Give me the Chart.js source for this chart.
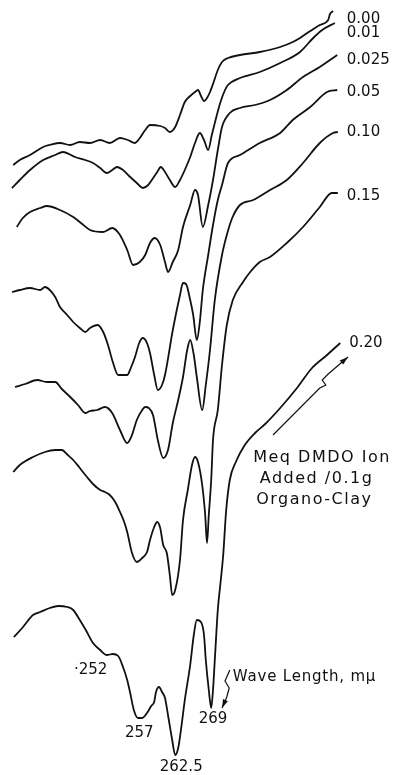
<!DOCTYPE html>
<html>
<head>
<meta charset="utf-8">
<script src="https://cdn.jsdelivr.net/npm/chart.js@4.4.1/dist/chart.umd.min.js"></script>
<style>
  html, body { margin: 0; padding: 0; background: #fff; }
  #wrap { width: 393px; height: 775px; }
</style>
</head>
<body>
<div id="wrap"><canvas id="spectra"></canvas></div>
<script>
// Meq DMDO ion added per 0.1 g organo-clay (curve labels, top to bottom)
var doses = ["0.00", "0.01", "0.025", "0.05", "0.10", "0.15", "0.20"];

// wave length (mu) and relative reading (curves stacked with offsets)
var wave000 = [235.7,236.8,238.5,240.7,241.8,243.5,245.2,246.8,248.5,250.2,251.8,253.5,254.8,256.0,256.8,257.7,258.5,260.2,261.0,261.8,262.7,263.5,264.3,265.2,266.0,266.5,267.0,267.5,268.0,268.5,269.0,269.8,270.5,271.5,273.5,276.8,280.2,282.3,283.5,285.2,286.8,288.2,288.5,289.0];
var val000  = [61.0,61.5,62.0,62.8,63.0,63.2,63.0,63.3,63.2,63.5,63.2,63.7,63.5,63.2,63.7,64.5,65.0,64.9,64.7,64.3,64.8,66.0,67.3,67.9,68.3,68.5,67.9,67.4,67.7,68.3,69.1,70.5,71.3,71.7,72.0,72.3,72.8,73.3,73.7,74.4,75.0,75.5,76.1,76.4];

var wave001 = [235.5,236.8,238.5,240.7,242.7,244.0,246.0,247.7,249.0,250.2,251.3,252.2,253.0,254.0,255.2,256.3,257.3,258.2,258.8,259.7,260.3,261.0,261.8,262.7,263.5,264.3,265.2,266.0,266.8,267.5,268.2,268.8,269.3,270.2,271.0,271.5,273.5,276.8,280.2,283.5,285.7,287.2,289.3];
var val001  = [58.7,59.5,60.5,61.5,62.0,62.3,61.8,61.5,61.2,60.7,60.2,60.5,60.8,60.5,59.8,59.2,58.7,59.0,59.5,60.3,60.8,60.3,59.5,58.8,59.5,60.5,61.8,63.2,64.2,63.5,62.5,64.0,65.2,67.2,68.5,69.0,69.7,70.3,71.2,72.3,73.7,74.5,75.2];

var wave0025 = [236.3,237.3,238.5,240.2,241.3,243.5,245.7,247.2,248.5,250.7,252.2,253.5,254.7,255.7,256.8,257.7,258.5,259.3,260.2,261.0,261.5,262.3,263.2,264.0,265.2,266.0,266.5,267.3,268.2,269.0,269.8,270.5,271.8,273.5,276.0,278.5,281.3,284.0,286.8,289.7];
var val0025  = [54.8,55.7,56.3,56.7,56.9,56.5,55.8,55.1,54.5,54.3,54.7,54.0,52.5,51.0,51.3,52.0,53.2,53.7,53.0,51.3,50.3,51.3,52.5,54.8,57.0,58.5,58.0,54.8,57.0,59.5,62.5,64.8,66.2,66.7,67.0,67.5,68.5,69.8,70.8,72.0];

var wave005 = [235.5,236.8,238.5,240.2,241.0,241.8,242.7,243.5,244.7,245.7,246.8,247.7,248.5,249.8,250.7,251.5,252.3,253.2,254.7,255.3,256.0,256.7,257.3,258.0,258.5,259.2,259.8,260.5,261.0,262.3,263.5,264.0,264.5,265.2,265.7,266.3,266.8,267.3,268.2,269.0,269.8,270.5,271.5,273.5,276.8,280.2,282.3,285.2,288.0,289.7];
var val005  = [48.3,48.5,48.7,48.5,48.8,48.5,47.8,46.8,46.0,45.3,44.7,44.3,44.7,45.0,44.3,43.0,41.3,40.0,40.0,40.7,41.8,43.2,43.7,43.2,42.2,40.0,38.5,39.0,40.0,44.5,48.0,49.2,49.1,47.5,46.0,43.5,45.3,48.5,52.0,55.0,57.5,59.0,61.2,62.0,63.2,64.2,65.5,66.8,68.3,68.5];

var wave010 = [236.0,237.7,239.7,241.3,242.7,243.8,245.2,246.5,247.7,248.5,249.7,251.0,252.2,253.5,254.7,255.5,256.3,257.2,257.7,258.3,259.0,259.8,260.7,261.5,262.3,263.2,264.0,264.7,265.2,265.8,266.3,267.2,267.8,268.5,269.3,270.5,271.3,272.2,273.5,275.7,278.5,281.3,284.0,286.8,289.0,289.8];
var val010  = [38.8,39.1,39.5,39.3,39.3,38.6,37.8,37.0,36.2,36.4,36.5,36.8,36.2,34.5,33.2,34.0,35.5,36.5,36.8,36.7,36.0,33.5,31.7,32.5,35.2,37.5,39.8,42.5,43.5,42.0,39.8,36.5,39.0,42.5,47.5,52.0,54.0,55.7,57.0,57.5,58.5,59.5,61.2,63.2,64.2,64.3];

var wave015 = [235.7,236.8,239.0,241.0,242.7,243.8,244.8,245.7,246.8,248.0,249.0,250.2,251.0,251.8,252.7,253.5,254.2,254.7,255.5,256.3,257.2,258.0,258.5,259.2,259.7,260.2,260.7,261.3,261.8,262.2,262.7,263.5,264.0,264.8,265.5,266.0,266.5,267.2,267.7,268.0,268.3,268.7,269.0,269.8,270.5,271.3,272.3,274.0,275.2,276.8,278.5,281.3,284.0,286.8,288.8,289.8];
var val015  = [30.3,31.0,31.8,32.3,32.5,32.5,32.0,31.5,30.7,29.8,29.1,28.5,28.3,28.0,27.3,26.3,25.3,24.3,22.2,21.3,21.7,22.3,23.5,24.8,25.3,24.7,23.0,22.2,20.0,18.0,18.5,21.5,25.5,28.5,31.0,31.8,31.3,29.0,26.0,23.2,26.0,29.5,33.5,36.5,41.0,45.0,47.5,49.3,50.3,51.3,51.8,53.2,54.8,56.8,58.2,58.2];

var wave020 = [235.8,237.2,239.0,240.2,241.8,243.2,244.7,245.7,246.8,247.8,249.0,250.2,251.3,252.3,253.2,254.0,254.7,255.2,255.8,256.5,257.2,258.0,258.7,259.2,259.5,260.0,260.5,261.0,261.5,262.2,262.7,263.2,263.7,264.3,265.2,265.8,266.3,267.0,267.5,267.8,268.3,268.7,269.0,269.3,269.8,270.3,270.7,271.2,271.8,272.8,274.3,276.0,277.7,280.2,283.0,285.5,288.0,290.2];
var val020  = [13.8,14.7,16.0,16.3,16.7,16.9,16.8,16.5,15.5,14.5,13.2,12.5,12.0,12.1,11.9,10.8,9.5,8.2,6.5,5.7,5.7,6.2,6.9,7.3,8.3,8.8,8.3,7.7,6.0,3.5,2.0,2.7,4.7,7.5,11.0,14.0,15.5,15.3,14.0,11.5,8.5,6.7,8.5,11.5,16.5,19.5,22.0,26.5,29.5,31.3,33.0,34.2,35.1,36.7,38.7,40.7,42.0,43.2];

var waves = [wave000, wave001, wave0025, wave005, wave010, wave015, wave020];
var vals = [val000, val001, val0025, val005, val010, val015, val020];

// label anchors (same units as the curves)
var doseLabelX = [291.3, 291.3, 291.3, 291.3, 291.3, 291.3, 291.7];
var doseLabelY = [75.6, 74.2, 71.5, 68.3, 64.3, 57.9, 43.2];
var peakNames = ["\u00b7252", "257", "262.5", "269"];
var peakX = [248.6, 256.7, 263.7, 269.0];
var peakY = [10.5, 4.2, 0.8, 5.6];
var noteLines = ["Meq DMDO Ion", "Added /0.1g", "Organo-Clay"];
var noteX = [275.7, 276.8, 276.2];
var noteY = [31.7, 29.6, 27.5];
var arrowDoseX = [279.0, 286.8, 287.8, 287.2, 288.2, 291.5];
var arrowDoseY = [34.0, 38.7, 39.0, 39.5, 40.1, 41.8];
var arrowWaveX = [271.8, 271.0, 271.7, 271.3, 270.5];
var arrowWaveY = [10.5, 9.4, 8.7, 7.8, 6.7];

function toPoints(xs, ys){
  var pts = [];
  for (var i = 0; i < xs.length; i++) pts.push({x: xs[i], y: ys[i]});
  return pts;
}

var datasets = [];
for (var k = 0; k < doses.length; k++) {
  datasets.push({
    label: doses[k],
    data: toPoints(waves[k], vals[k]),
    borderColor: "#111",
    borderWidth: 1.8,
    pointRadius: 0,
    fill: false,
    cubicInterpolationMode: "monotone"
  });
}

// draws the hand lettering and arrows of the figure
var annotations = {
  id: "annotations",
  afterDatasetsDraw: function(chart){
    var ctx = chart.ctx;
    var sx = chart.scales.x, sy = chart.scales.y;
    function px(v){ return sx.getPixelForValue(v); }
    function py(v){ return sy.getPixelForValue(v); }
    ctx.save();
    ctx.fillStyle = "#111";
    ctx.strokeStyle = "#111";
    ctx.textBaseline = "middle";

    ctx.font = "15px 'DejaVu Sans'";
    ctx.textAlign = "left";
    for (var i = 0; i < doses.length; i++) {
      ctx.fillText(doses[i], px(doseLabelX[i]), py(doseLabelY[i]));
    }

    ctx.textAlign = "center";
    for (var j = 0; j < peakNames.length; j++) {
      ctx.fillText(peakNames[j], px(peakX[j]), py(peakY[j]));
    }

    ctx.font = "16px 'DejaVu Sans'";
    ctx.textAlign = "left";
    ctx.letterSpacing = "1.5px";
    for (var n = 0; n < noteLines.length; n++) {
      ctx.fillText(noteLines[n], px(noteX[n]), py(noteY[n]));
    }
    ctx.font = "15px 'DejaVu Sans'";
    ctx.letterSpacing = "0.8px";
    ctx.fillText("Wave Length, m\u03bc", px(272.3), py(9.8));
    ctx.letterSpacing = "0px";

    function arrow(xs, ys){
      ctx.lineWidth = 1.2;
      ctx.beginPath();
      ctx.moveTo(px(xs[0]), py(ys[0]));
      for (var a = 1; a < xs.length; a++) ctx.lineTo(px(xs[a]), py(ys[a]));
      ctx.stroke();
      var last = xs.length - 1;
      var x1 = px(xs[last]), y1 = py(ys[last]);
      var x0 = px(xs[last - 1]), y0 = py(ys[last - 1]);
      var ang = Math.atan2(y1 - y0, x1 - x0);
      ctx.beginPath();
      ctx.moveTo(x1, y1);
      ctx.lineTo(x1 - 9 * Math.cos(ang - 0.3), y1 - 9 * Math.sin(ang - 0.3));
      ctx.lineTo(x1 - 9 * Math.cos(ang + 0.3), y1 - 9 * Math.sin(ang + 0.3));
      ctx.closePath();
      ctx.fill();
    }
    arrow(arrowDoseX, arrowDoseY);
    arrow(arrowWaveX, arrowWaveY);
    ctx.restore();
  }
};

new Chart(document.getElementById("spectra"), {
  type: "line",
  data: { datasets: datasets },
  options: {
    responsive: true,
    maintainAspectRatio: false,
    animation: false,
    layout: { padding: 0 },
    plugins: {
      legend: { display: false },
      tooltip: { enabled: false }
    },
    scales: {
      x: { type: "linear", min: 233.5, max: 299, display: false },
      y: { min: 0, max: 77.5, display: false }
    }
  },
  plugins: [annotations]
});
</script>
</body>
</html>
